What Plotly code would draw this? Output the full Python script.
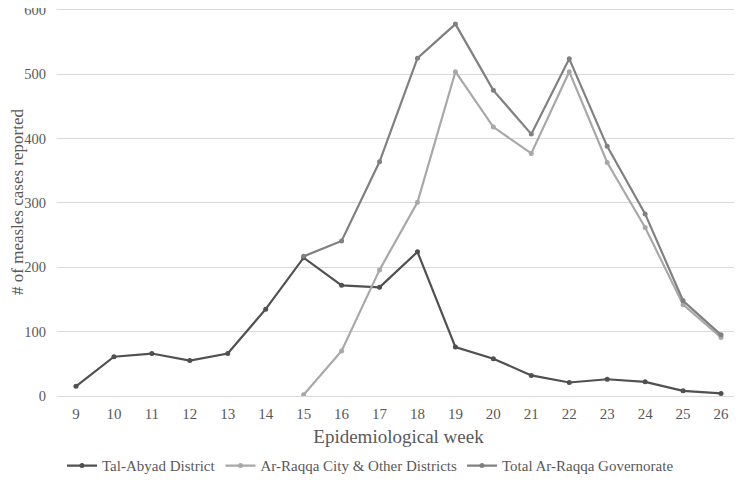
import plotly.graph_objects as go

weeks = [str(w) for w in range(9, 27)]
tal_abyad = [15, 61, 66, 55, 66, 135, 215, 172, 169, 224, 76, 58, 32, 21, 26, 22, 8, 4]
raqqa_weeks = [str(w) for w in range(15, 27)]
raqqa_city = [2, 70, 196, 301, 504, 418, 377, 504, 363, 262, 142, 91]
total = [217, 241, 364, 525, 578, 475, 407, 524, 388, 283, 148, 95]

ff = "Liberation Serif"
tc = "#595959"

fig = go.Figure()
fig.add_trace(go.Scatter(x=weeks, y=tal_abyad, mode="lines+markers",
                         name="Tal-Abyad District",
                         line=dict(color="#505050", width=2.2),
                         marker=dict(color="#505050", size=5)))
fig.add_trace(go.Scatter(x=raqqa_weeks, y=raqqa_city, mode="lines+markers",
                         name="Ar-Raqqa City & Other Districts",
                         line=dict(color="#a8a8a8", width=2.2),
                         marker=dict(color="#a8a8a8", size=5)))
fig.add_trace(go.Scatter(x=raqqa_weeks, y=total, mode="lines+markers",
                         name="Total Ar-Raqqa Governorate",
                         line=dict(color="#808080", width=2.2),
                         marker=dict(color="#808080", size=5)))

fig.update_layout(
    width=734, height=477,
    margin=dict(l=49, r=2, t=0, b=89, autoexpand=False),
    paper_bgcolor="white", plot_bgcolor="white",
    font=dict(family=ff, color=tc, size=15),
    showlegend=True,
    legend=dict(orientation="h", x=0.459, xanchor="center", y=-0.18, yanchor="middle",
                font=dict(family=ff, size=15, color=tc), itemwidth=30,
                tracegroupgap=0),
    xaxis=dict(type="category", categoryorder="array", categoryarray=weeks,
               showgrid=False, showline=False, zeroline=False, automargin=False,
               ticks="", ticklabelstandoff=7, tickfont=dict(family=ff, size=15, color=tc),
               title=dict(text="Epidemiological week", font=dict(family=ff, size=19, color=tc),
                          standoff=8),
               range=[-0.5, 17.5]),
    yaxis=dict(range=[0, 603], dtick=100, showgrid=True, gridcolor="#d9d9d9",
               gridwidth=1, zeroline=True, zerolinecolor="#d9d9d9", zerolinewidth=1,
               showline=False, ticks="", automargin=False, ticklabelstandoff=10,
               ticklabeloverflow="allow",
               tickfont=dict(family=ff, size=14.5, color=tc),
               title=dict(text="# of measles cases reported", font=dict(family=ff, size=17, color=tc),
                          standoff=30)),
)

fig.write_html("out.html")
